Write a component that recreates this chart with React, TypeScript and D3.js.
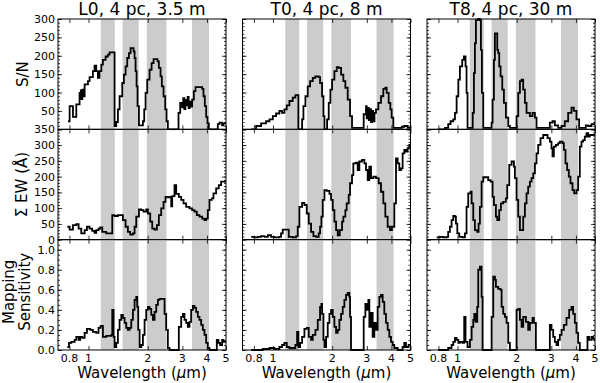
import React, { useRef, useEffect } from "react";
import * as d3 from "d3";

// panel titles (columns)
const titles = ["L0, 4 pc, 3.5 m", "T0, 4 pc, 8 m", "T8, 4 pc, 30 m"];
// shaded photometric bands (micron)
const bands = [[1.155, 1.36], [1.49, 1.8], [1.98, 2.49], [3.36, 4.1]];
const xTicks = [0.8, 1, 2, 3, 4, 5];

// [wavelength, value] step data
const snL0 = [[0.787,22],[0.802,63],[0.834,34],[0.867,68],[0.901,99],[0.908,84],[0.915,106],[0.922,82],[0.93,108],[0.937,90],[0.956,122],[0.994,131],[1.013,142],[1.053,158],[1.074,173],[1.095,158],[1.117,140],[1.138,158],[1.162,176],[1.184,189],[1.222,198],[1.256,203],[1.28,209],[1.357,9],[1.384,20],[1.411,54],[1.439,90],[1.485,126],[1.514,149],[1.544,171],[1.574,194],[1.605,207],[1.637,221],[1.695,212],[1.715,194],[1.735,158],[1.756,117],[1.776,63],[1.805,11],[1.891,22],[1.92,54],[1.951,99],[1.989,135],[2.044,162],[2.093,180],[2.142,191],[2.244,185],[2.279,167],[2.324,144],[2.36,117],[2.407,90],[2.455,54],[2.493,22],[2.532,0],[2.868,45],[2.925,72],[2.99,60],[3.03,85],[3.07,55],[3.11,80],[3.15,65],[3.19,88],[3.23,58],[3.27,75],[3.31,62],[3.365,81],[3.432,104],[3.499,115],[3.783,110],[3.842,90],[3.902,63],[3.964,34],[4.025,16],[4.089,0],[4.543,14],[4.632,18],[4.779,11],[4.85,16],[5,16]];
const snT0 = [[0.775,0],[0.821,9],[0.87,16],[0.922,22],[0.96,27],[0.998,36],[1.037,43],[1.078,50],[1.112,45],[1.143,54],[1.175,65],[1.212,77],[1.26,86],[1.3,93],[1.346,0],[1.406,27],[1.428,63],[1.462,90],[1.502,117],[1.544,131],[1.593,140],[1.643,144],[1.708,142],[1.735,126],[1.776,90],[1.805,36],[1.826,0],[1.884,27],[1.92,72],[1.958,108],[1.997,135],[2.052,158],[2.109,169],[2.158,167],[2.219,149],[2.279,131],[2.333,113],[2.398,81],[2.464,36],[2.522,4],[2.891,41],[2.971,63],[2.995,30],[3.03,58],[3.07,25],[3.11,55],[3.15,20],[3.19,50],[3.23,22],[3.28,45],[3.339,54],[3.432,72],[3.54,90],[3.638,110],[3.724,113],[3.783,99],[3.872,72],[3.949,54],[4.01,32],[4.089,4],[4.525,7],[4.65,9],[4.835,4],[5,4]];
const snT8 = [[0.799,0],[0.864,4],[0.897,14],[0.922,22],[0.952,27],[0.971,45],[0.99,90],[1.01,135],[1.029,171],[1.057,189],[1.078,198],[1.099,171],[1.112,99],[1.125,4],[1.195,45],[1.212,153],[1.226,234],[1.241,297],[1.27,300],[1.3,297],[1.316,216],[1.331,99],[1.352,4],[1.491,18],[1.508,81],[1.532,189],[1.55,261],[1.593,216],[1.611,207],[1.63,171],[1.656,144],[1.689,108],[1.722,72],[1.762,32],[1.812,9],[1.847,4],[1.997,36],[2.036,99],[2.077,131],[2.117,135],[2.158,108],[2.201,72],[2.244,45],[2.333,36],[2.407,45],[2.474,32],[2.522,4],[2.948,18],[3.041,22],[3.125,11],[3.249,4],[3.379,9],[3.512,22],[3.652,45],[3.797,59],[3.902,50],[4.025,27],[4.153,4],[4.49,11],[4.614,9],[4.798,14],[5,14]];

const ewL0 = [[0.781,41],[0.802,32],[0.834,46],[0.867,49],[0.891,35],[0.919,20],[0.956,30],[0.982,41],[1.013,35],[1.045,28],[1.074,22],[1.095,30],[1.125,35],[1.147,39],[1.175,25],[1.231,20],[1.321,78],[1.357,75],[1.411,78],[1.496,62],[1.544,41],[1.586,25],[1.63,16],[1.682,20],[1.715,41],[1.749,73],[1.805,96],[1.854,94],[1.905,89],[1.966,96],[2.005,83],[2.06,57],[2.109,35],[2.167,32],[2.227,46],[2.279,78],[2.342,99],[2.407,120],[2.464,136],[2.532,134],[2.602,136],[2.633,106],[2.664,138],[2.737,173],[2.791,145],[2.879,136],[2.96,126],[3.041,115],[3.137,104],[3.262,99],[3.365,94],[3.458,89],[3.554,78],[3.666,73],[3.783,67],[3.887,62],[3.964,67],[4.041,94],[4.121,126],[4.235,131],[4.318,147],[4.455,163],[4.596,173],[4.723,184],[5,184]];
const ewT0 = [[0.775,9],[0.805,7],[0.837,9],[0.87,11],[0.905,9],[0.941,14],[0.978,9],[1.017,7],[1.078,9],[1.099,20],[1.121,32],[1.175,32],[1.203,9],[1.26,7],[1.311,11],[1.336,41],[1.362,104],[1.406,117],[1.445,110],[1.485,83],[1.52,51],[1.562,25],[1.605,11],[1.656,9],[1.708,20],[1.735,41],[1.762,73],[1.79,126],[1.826,157],[1.876,155],[1.936,145],[1.974,126],[2.013,94],[2.052,57],[2.093,30],[2.134,14],[2.184,30],[2.244,57],[2.279,73],[2.333,94],[2.369,115],[2.426,142],[2.464,179],[2.522,205],[2.561,242],[2.643,244],[2.695,221],[2.748,248],[2.835,253],[2.914,242],[2.971,221],[3.029,189],[3.089,232],[3.149,195],[3.237,200],[3.339,195],[3.445,179],[3.54,152],[3.638,115],[3.724,73],[3.827,41],[3.933,30],[4.025,41],[4.137,115],[4.219,258],[4.302,242],[4.386,221],[4.473,226],[4.56,274],[4.65,285],[4.74,279],[4.835,290],[4.93,301],[5,301]];
const ewT8 = [[0.784,7],[0.815,9],[0.847,7],[0.881,9],[0.897,25],[0.915,41],[0.933,62],[0.952,75],[0.971,73],[0.982,51],[0.998,20],[1.021,9],[1.061,7],[1.091,20],[1.112,104],[1.134,147],[1.166,152],[1.18,115],[1.203,62],[1.226,30],[1.26,25],[1.28,51],[1.3,104],[1.326,184],[1.352,198],[1.433,189],[1.474,184],[1.508,136],[1.532,110],[1.568,73],[1.593,62],[1.63,94],[1.662,115],[1.708,120],[1.762,131],[1.79,173],[1.833,237],[1.884,248],[1.936,232],[1.958,195],[1.997,126],[2.036,73],[2.077,30],[2.158,73],[2.201,115],[2.244,147],[2.288,168],[2.333,184],[2.379,195],[2.426,210],[2.474,242],[2.522,274],[2.572,301],[2.643,322],[2.727,332],[2.868,322],[2.948,311],[3.005,290],[3.041,264],[3.089,295],[3.162,301],[3.249,306],[3.313,311],[3.418,306],[3.472,285],[3.54,242],[3.61,221],[3.68,200],[3.753,179],[3.842,157],[3.918,147],[4.025,157],[4.105,200],[4.186,295],[4.268,311],[4.352,316],[4.438,327],[4.525,338],[4.614,327],[4.705,332],[5,332]];

const mapL0 = [[0.781,0.03],[0.796,0.07],[0.818,0.08],[0.85,0.1],[0.867,0.13],[0.891,0.1],[0.908,0.13],[0.93,0.12],[0.956,0.17],[0.982,0.21],[1.021,0.2],[1.053,0.18],[1.095,0.17],[1.125,0.22],[1.153,0.24],[1.184,0.13],[1.231,0.14],[1.306,0.15],[1.321,0.4],[1.341,0.13],[1.357,0.03],[1.384,0.07],[1.411,0.2],[1.439,0.3],[1.468,0.35],[1.496,0.32],[1.526,0.27],[1.556,0.22],[1.586,0.2],[1.618,0.22],[1.65,0.3],[1.682,0.4],[1.715,0.5],[1.749,0.53],[1.769,0.43],[1.79,0.2],[1.819,0.03],[1.854,0.05],[1.891,0.15],[1.928,0.3],[1.966,0.4],[2.005,0.43],[2.044,0.41],[2.085,0.35],[2.125,0.3],[2.167,0.38],[2.21,0.45],[2.253,0.5],[2.297,0.51],[2.436,0.36],[2.483,0.2],[2.532,0.02],[2.582,0],[2.879,0.23],[2.96,0.33],[3.017,0.36],[3.077,0.3],[3.137,0.27],[3.199,0.23],[3.262,0.28],[3.326,0.4],[3.392,0.44],[3.458,0.42],[3.526,0.38],[3.596,0.33],[3.666,0.3],[3.739,0.25],[3.812,0.2],[3.887,0.15],[3.964,0.07],[4.041,0.02],[4.121,0],[4.49,0.1],[4.578,0.07],[4.668,0.05],[4.779,0.1],[4.85,0.08],[5,0.08]];
const mapT0 = [[0.775,0],[0.887,0.01],[0.96,0.02],[1.017,0.01],[1.078,0.03],[1.112,0.05],[1.143,0.07],[1.175,0.03],[1.212,0.02],[1.3,0.05],[1.326,0.18],[1.346,0.03],[1.373,0.07],[1.406,0.13],[1.445,0.21],[1.485,0.22],[1.52,0.13],[1.562,0.1],[1.593,0.15],[1.643,0.2],[1.689,0.3],[1.735,0.43],[1.762,0.46],[1.776,0.36],[1.805,0.1],[1.826,0.03],[1.862,0.13],[1.898,0.27],[1.936,0.36],[1.974,0.4],[2.013,0.33],[2.052,0.23],[2.093,0.17],[2.134,0.2],[2.175,0.3],[2.219,0.36],[2.262,0.43],[2.306,0.5],[2.351,0.55],[2.398,0.57],[2.445,0.53],[2.464,0.33],[2.493,0],[2.891,0.33],[2.948,0.46],[2.995,0.4],[3.053,0.5],[3.089,0.23],[3.149,0.37],[3.211,0.13],[3.275,0.27],[3.339,0.2],[3.405,0.43],[3.472,0.53],[3.54,0.55],[3.61,0.48],[3.68,0.36],[3.753,0.27],[3.827,0.2],[3.902,0.13],[3.98,0.08],[4.057,0.05],[4.137,0.02],[4.302,0],[4.56,0.03],[4.65,0.07],[4.74,0.03],[4.89,0.05],[5,0.05]];
const mapT8 = [[0.799,0],[0.897,0.02],[0.933,0.05],[0.952,0.08],[0.971,0.12],[0.99,0.1],[1.01,0.07],[1.029,0.08],[1.061,0.07],[1.082,0.33],[1.099,0.08],[1.125,0.03],[1.157,0.1],[1.18,0.23],[1.203,0.3],[1.217,0.36],[1.236,0.28],[1.26,0.43],[1.275,0.8],[1.3,0.83],[1.326,0.53],[1.341,0],[1.491,0.33],[1.52,0.73],[1.55,0.7],[1.568,0.63],[1.611,0.61],[1.656,0.6],[1.676,0.43],[1.708,0.36],[1.742,0.33],[1.776,0.27],[1.812,0.07],[1.847,0],[1.997,0.4],[2.036,0.41],[2.077,0.3],[2.117,0.23],[2.158,0.33],[2.227,0.28],[2.288,0.2],[2.333,0.27],[2.407,0.32],[2.445,0.27],[2.503,0],[2.948,0.25],[3.005,0.2],[3.065,0.13],[3.125,0.08],[3.187,0.05],[3.249,0.1],[3.313,0.15],[3.379,0.2],[3.472,0.25],[3.582,0.32],[3.695,0.4],[3.797,0.43],[3.872,0.36],[3.949,0.27],[4.025,0.17],[4.105,0.07],[4.186,0],[4.578,0.13],[4.668,0.1],[4.798,0.13],[4.89,0.11],[5,0.11]];

const rowsCfg = [
  { domain: [0, 300], major: d3.range(0, 301, 50), minor: d3.range(0, 301, 10), labels: d3.range(50, 301, 50), fmt: (d) => `${d}`, series: [snL0, snT0, snT8] },
  { domain: [0, 350], major: d3.range(0, 351, 50), minor: d3.range(0, 351, 10), labels: d3.range(0, 351, 50), fmt: (d) => `${d}`, series: [ewL0, ewT0, ewT8] },
  { domain: [0, 1.1], major: d3.range(0, 1.01, 0.2), minor: d3.range(0, 1.1, 0.05), labels: d3.range(0, 1.01, 0.2), fmt: d3.format(".1f"), series: [mapL0, mapT0, mapT8] },
];

export default function App() {
  const svgRef = useRef<SVGSVGElement>(null);

  useEffect(() => {
    const svg = d3.select(svgRef.current);
    svg.selectAll("*").remove();

    const width = 600;
    const height = 383;
    const lefts = [58, 242.5, 427];
    const panelW = 168;
    const top = 19;
    const rowH = 110.33;
    const font = "DejaVu Sans, sans-serif";

    svg.append("rect").attr("width", width).attr("height", height).attr("fill", "white");

    const xScale = d3.scaleLog().domain([0.7, 5]).range([0, panelW]);

    rowsCfg.forEach((row, r) => {
      const y0 = top + r * rowH;
      const yScale = d3.scaleLinear().domain(row.domain).range([rowH, 0]);

      lefts.forEach((left, c) => {
        const g = svg.append("g").attr("transform", `translate(${left}, ${y0})`);
        const clipId = `clip-${r}-${c}`;
        g.append("clipPath")
          .attr("id", clipId)
          .append("rect")
          .attr("y", -1)
          .attr("width", panelW)
          .attr("height", rowH + 2);

        // shaded bands
        g.selectAll(".band")
          .data(bands)
          .enter()
          .append("rect")
          .attr("class", "band")
          .attr("x", (d) => xScale(d[0]))
          .attr("width", (d) => xScale(d[1]) - xScale(d[0]))
          .attr("y", 0)
          .attr("height", rowH)
          .attr("fill", "#cccccc");

        const line = d3
          .line()
          .x((d) => xScale(d[0]))
          .y((d) => yScale(d[1]))
          .curve(d3.curveStepAfter);

        g.append("path")
          .datum(row.series[c])
          .attr("d", line)
          .attr("fill", "none")
          .attr("stroke", "black")
          .attr("stroke-width", 1.8)
          .attr("clip-path", `url(#${clipId})`);

        // inward ticks on all four sides
        const noText = (s) => {
          s.select(".domain").remove();
          s.selectAll("text").remove();
          s.selectAll("line").attr("stroke", "black").attr("stroke-width", 0.8);
        };
        g.append("g").call(d3.axisLeft(yScale).tickValues(row.minor).tickSize(-2)).call(noText);
        g.append("g").call(d3.axisLeft(yScale).tickValues(row.major).tickSize(-4)).call(noText);
        g.append("g")
          .attr("transform", `translate(${panelW}, 0)`)
          .call(d3.axisRight(yScale).tickValues(row.minor).tickSize(-2))
          .call(noText);
        g.append("g")
          .attr("transform", `translate(${panelW}, 0)`)
          .call(d3.axisRight(yScale).tickValues(row.major).tickSize(-4))
          .call(noText);
        g.append("g")
          .attr("transform", `translate(0, ${rowH})`)
          .call(d3.axisBottom(xScale).tickValues(xTicks).tickSize(-4))
          .call(noText);
        g.append("g").call(d3.axisTop(xScale).tickValues(xTicks).tickSize(-4)).call(noText);

        g.append("rect")
          .attr("width", panelW)
          .attr("height", rowH)
          .attr("fill", "none")
          .attr("stroke", "black")
          .attr("stroke-width", 1);

        // y tick labels, first column only
        if (c === 0) {
          g.selectAll(".ylab")
            .data(row.labels)
            .enter()
            .append("text")
            .attr("class", "ylab")
            .attr("x", -3)
            .attr("y", (d) => yScale(d))
            .attr("dy", "0.36em")
            .attr("text-anchor", "end")
            .style("font-family", font)
            .style("font-size", "11px")
            .text(row.fmt);
        }

        // x tick labels, bottom row only
        if (r === rowsCfg.length - 1) {
          g.selectAll(".xlab")
            .data(xTicks)
            .enter()
            .append("text")
            .attr("class", "xlab")
            .attr("x", (d) => xScale(d))
            .attr("y", rowH + 12)
            .attr("text-anchor", "middle")
            .style("font-family", font)
            .style("font-size", "11px")
            .text((d) => `${d}`);

          const wl = g
            .append("text")
            .attr("x", panelW / 2)
            .attr("y", rowH + 28)
            .attr("text-anchor", "middle")
            .style("font-family", font)
            .style("font-size", "15px");
          wl.append("tspan").text("Wavelength (");
          wl.append("tspan").style("font-style", "italic").text("μ");
          wl.append("tspan").text("m)");
        }

        if (r === 0) {
          g.append("text")
            .attr("x", panelW / 2)
            .attr("y", -4)
            .attr("text-anchor", "middle")
            .style("font-family", font)
            .style("font-size", "17px")
            .text(titles[c]);
        }
      });
    });

    // y axis titles
    const yLabel = (lines, cy, xs) => {
      lines.forEach((t, i) => {
        svg
          .append("text")
          .attr("transform", `translate(${xs[i]}, ${cy}) rotate(-90)`)
          .attr("text-anchor", "middle")
          .style("font-family", font)
          .style("font-size", "15px")
          .text(t);
      });
    };
    yLabel(["S/N"], top + rowH / 2, [28]);
    yLabel(["Σ EW (Å)"], top + rowH * 1.5, [27]);
    yLabel(["Mapping", "Sensitivity"], top + rowH * 2.5 - 3, [13.5, 30]);
  }, []);

  return (
    <svg
      ref={svgRef}
      width={600}
      height={383}
      style={{ position: "absolute", left: 0, top: 0 }}
    ></svg>
  );
}
